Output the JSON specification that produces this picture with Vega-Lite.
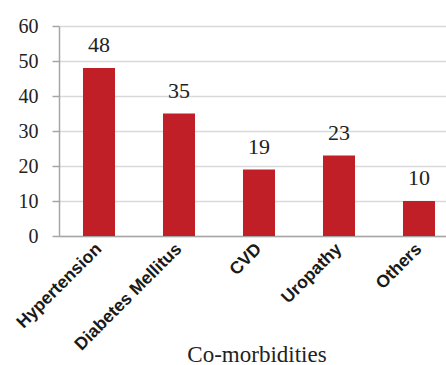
{
  "$schema": "https://vega.github.io/schema/vega-lite/v6.json",
  "width": 387,
  "height": 210,
  "autosize": {"type": "none"},
  "padding": {"left": 59, "top": 26, "right": 0, "bottom": 129},
  "background": "white",
  "data": {
    "values": [
      {"condition": "Hypertension", "count": 48},
      {"condition": "Diabetes Mellitus", "count": 35},
      {"condition": "CVD", "count": 19},
      {"condition": "Uropathy", "count": 23},
      {"condition": "Others", "count": 10}
    ]
  },
  "config": {
    "view": {"stroke": null},
    "axis": {"domainColor": "#A6A6A6", "domainWidth": 1.5}
  },
  "encoding": {
    "x": {
      "field": "condition",
      "type": "nominal",
      "sort": null,
      "scale": {"paddingInner": 0.6, "paddingOuter": 0.21875, "align": 0.6857},
      "axis": {
        "title": "Co-morbidities",
        "titleFont": "Liberation Serif",
        "titleFontSize": 23,
        "titleFontWeight": "normal",
        "titleColor": "#222222",
        "titleBaseline": "alphabetic",
        "titleX": 197.5,
        "titleY": 125,
        "titleAnchor": "middle",
        "labelAngle": -45,
        "labelAlign": "right",
        "labelBaseline": "middle",
        "labelFont": "Liberation Sans",
        "labelFontWeight": "bold",
        "labelFontSize": 17.5,
        "labelColor": "#1a1a1a",
        "labelPadding": 10,
        "ticks": false,
        "grid": false
      }
    },
    "y": {
      "field": "count",
      "type": "quantitative",
      "scale": {"domain": [0, 60]},
      "axis": {
        "title": null,
        "values": [0, 10, 20, 30, 40, 50, 60],
        "labelFont": "Liberation Serif",
        "labelFontSize": 20,
        "labelColor": "#222222",
        "labelPadding": 14,
        "tickSize": 7,
        "tickColor": "#A6A6A6",
        "tickWidth": 1.5,
        "grid": true,
        "gridColor": "#D9D9D9",
        "gridWidth": 1.5
      }
    }
  },
  "layer": [
    {"mark": {"type": "bar", "color": "#C01F28"}},
    {
      "mark": {
        "type": "text",
        "baseline": "alphabetic",
        "dy": -16,
        "font": "Liberation Serif",
        "fontSize": 22,
        "color": "#222222"
      },
      "encoding": {"text": {"field": "count", "type": "quantitative"}}
    }
  ]
}
